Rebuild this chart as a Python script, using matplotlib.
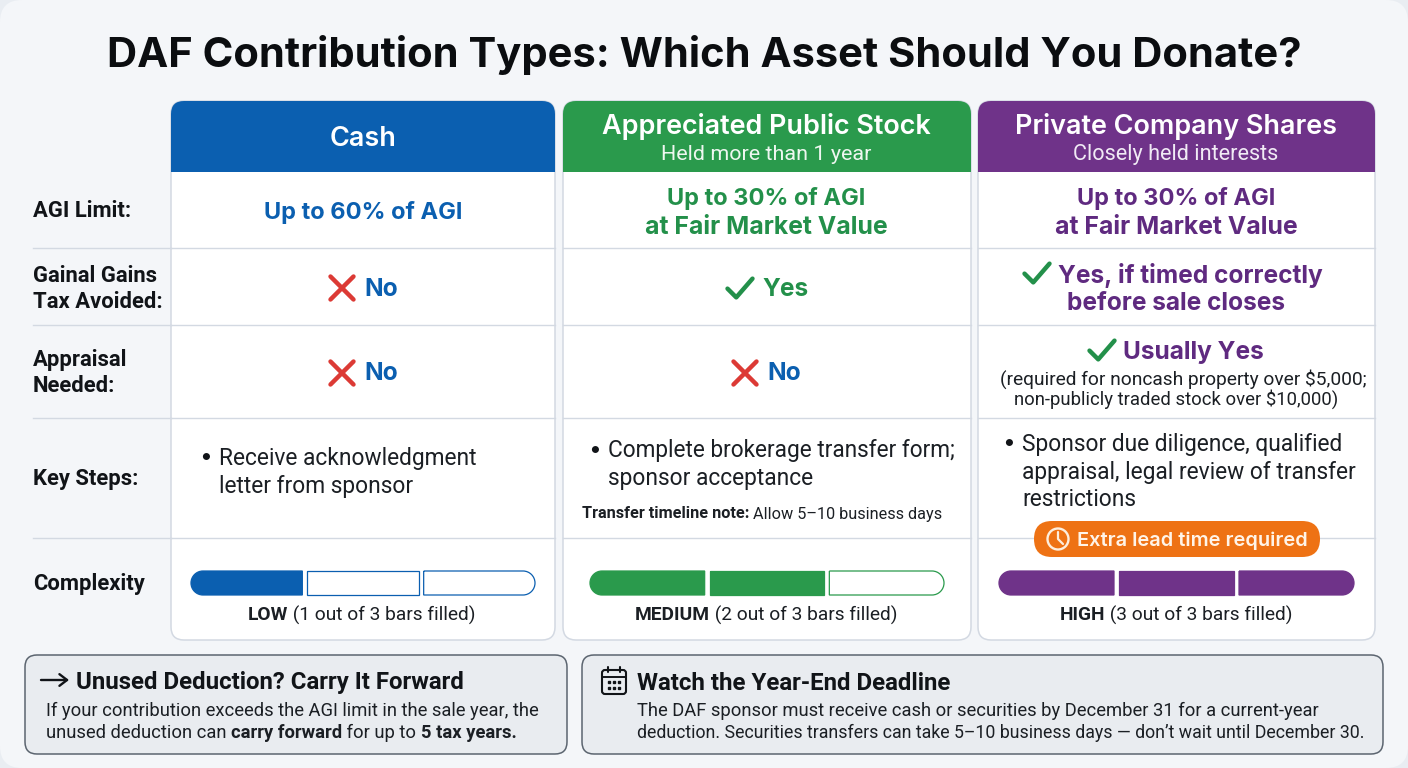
import matplotlib
matplotlib.use("Agg")
import matplotlib.pyplot as plt
import numpy as np
from matplotlib.patches import FancyBboxPatch, Rectangle, PathPatch, Circle
from matplotlib.path import Path

TITLE = "DAF Contribution Types: Which Asset Should You Donate?"
HEADERS = ["Cash", "Appreciated Public Stock", "Private Company Shares"]
SUBHEADERS = ["", "Held more than 1 year", "Closely held interests"]
COLORS = ["#0b5fb0", "#2a9a4c", "#6f3389"]
DARK_TEXT = ["#0b5fb0", "#23904a", "#5f2a80"]
ROW_LABELS = ["AGI Limit:", "Gainal Gains\nTax Avoided:", "Appraisal\nNeeded:", "Key Steps:", "Complexity"]
AGI_LINE1 = ["Up to 60% of AGI", "Up to 30% of AGI", "Up to 30% of AGI"]
AGI_LINE2 = ["", "at Fair Market Value", "at Fair Market Value"]
LEVELS = ["LOW", "MEDIUM", "HIGH"]
FILLED = [1, 2, 3]
TOTAL_BARS = 3

W, H = 1408, 768
FONT = "Inter"
BODY = "Roboto"
plt.rcParams["font.family"] = [FONT, "DejaVu Sans"]
fig = plt.figure(figsize=(W / 100, H / 100), dpi=100)
ax = fig.add_axes([0, 0, 1, 1])
ax.set_xlim(0, W); ax.set_ylim(H, 0); ax.axis("off")
fig.patch.set_facecolor("#e9edf2")
ax.add_patch(FancyBboxPatch((6, 6), W - 12, H - 12, boxstyle="round,pad=6,rounding_size=22",
                            fc="#f4f6f9", ec="none", zorder=0))

def px(p):
    return p * 0.72

def T(x, y, s, size, weight="normal", color="#111418", ha="center", va="center", z=5, lsp=None, font=None):
    kw = {}
    if lsp: kw["linespacing"] = lsp
    return ax.text(x, y, s, fontsize=px(size), fontweight=weight, color=color, ha=ha, va=va, zorder=z,
                   family=font or FONT, **kw)

def runs(x, y, parts, size, color="#1b1f24", center=False):
    r = fig.canvas.get_renderer()
    ws = []
    arts = []
    for s, b in parts:
        t = ax.text(0, y, s.replace(" ", "\u00a0"), fontsize=px(size), fontweight="bold" if b else "normal",
                    color=color, va="center", ha="left", zorder=5, family=BODY)
        ws.append(t.get_window_extent(r).width)
        arts.append(t)
    if center:
        x = x - sum(ws) / 2
    for t, w in zip(arts, ws):
        t.set_x(x); x += w

def rbox(x0, y0, x1, y1, r, fc, ec="none", lw=1, z=1):
    p = FancyBboxPatch((x0 + r, y0 + r), x1 - x0 - 2 * r, y1 - y0 - 2 * r,
                       boxstyle=f"round,pad={r},rounding_size={r}", fc=fc, ec=ec, lw=lw, zorder=z)
    ax.add_patch(p)
    return p

def xmark(cx, cy, s=11.5):
    for d in (1, -1):
        ax.plot([cx - s, cx + s], [cy - d * s, cy + d * s], color="#dc3a35", lw=3.2,
                solid_capstyle="round", zorder=5)

def check(cx, cy, s=12.5):
    ax.plot([cx - s, cx - s * 0.3, cx + s], [cy + s * 0.05, cy + s * 0.75, cy - s * 0.75],
            color="#23904a", lw=3.2, solid_capstyle="round", solid_joinstyle="round", zorder=5)

def seg(x0, x1, y0, y1, left, right, fc, ec):
    r = (y1 - y0) / 2
    k = 0.5523 * r
    C3 = Path.CURVE4
    v = [(x0 + (r if left else 0), y0), (x1 - (r if right else 0), y0)]
    c = [Path.MOVETO, Path.LINETO]
    if right:
        v += [(x1 - r + k, y0), (x1, y0 + r - k), (x1, y0 + r), (x1, y0 + r + k), (x1 - r + k, y1), (x1 - r, y1)]
        c += [C3] * 6
    else:
        v += [(x1, y1)]; c += [Path.LINETO]
    v += [(x0 + (r if left else 0), y1)]; c += [Path.LINETO]
    if left:
        v += [(x0 + r - k, y1), (x0, y1 - r + k), (x0, y0 + r), (x0, y0 + r - k), (x0 + r - k, y0), (x0 + r, y0)]
        c += [C3] * 6
    else:
        v += [(x0, y0)]; c += [Path.LINETO]
    ax.add_patch(PathPatch(Path(v, c), fc=fc, ec=ec, lw=0.9, zorder=4))

# Title
T(704, 55, TITLE, 41.7, "bold", "#0b0d10")

# Cards
CARDS = [(171, 555), (563, 971), (978, 1375)]
CARD_TOP, HEAD_BOT, CARD_BOT = 101, 172, 640
LINES = [248, 325, 418, 538]
for (x0, x1), col in zip(CARDS, COLORS):
    card = rbox(x0, CARD_TOP, x1, CARD_BOT, 13, "white", "#d3d9e2", 1.1, 1)
    head = Rectangle((x0, CARD_TOP), x1 - x0, HEAD_BOT - CARD_TOP, fc=col, ec="none", zorder=2)
    ax.add_patch(head)
    head.set_clip_path(card)
    for y in LINES:
        ax.plot([x0, x1], [y, y], color="#d3d9e2", lw=1.0, zorder=2)
for y in LINES:
    ax.plot([33, 171], [y, y], color="#d3d9e2", lw=1.0, zorder=1)

# Header text
T(363, 139, HEADERS[0], 27, "semibold", "white")
T(766, 127, HEADERS[1], 27, "semibold", "white")
T(766, 154.5, SUBHEADERS[1], 21.5, "normal", "#eef7f0", font=BODY)
T(1176, 127, HEADERS[2], 27, "semibold", "white")
T(1176, 154.5, SUBHEADERS[2], 21.7, "normal", "#f1ebf5", font=BODY)

# Row labels
for y, s in zip([211, 289, 373, 479, 584], ROW_LABELS):
    T(33, y, s, 22, "bold", "#111418", ha="left", lsp=1.27, font=BODY)

# AGI row
T(363, 212, AGI_LINE1[0], 23.6, "bold", DARK_TEXT[0])
for cx, a, b, c in zip([766, 1176], AGI_LINE1[1:], AGI_LINE2[1:], DARK_TEXT[1:]):
    T(cx, 198, a, 23.6, "bold", c)
    T(cx, 227, b, 24.8, "bold", c)

# Gains row
B = 24.5
xmark(342, 288); T(364, 289, "No", B, "bold", DARK_TEXT[0], ha="left")
check(740, 288); T(762, 289, "Yes", B, "bold", DARK_TEXT[1], ha="left")
check(1037, 273); T(1058, 275, "Yes, if timed correctly", B, "bold", DARK_TEXT[2], ha="left")
T(1176, 304, "before sale closes", B, "bold", DARK_TEXT[2])

# Appraisal row
xmark(342, 373); T(364, 374, "No", B, "bold", DARK_TEXT[0], ha="left")
xmark(745, 373); T(767, 374, "No", B, "bold", DARK_TEXT[0], ha="left")
check(1102, 350); T(1123, 352, "Usually Yes", B, "bold", DARK_TEXT[2], ha="left")
T(1183, 379, "(required for noncash property over $5,000;", 19.1, color="#1b1f24", font=BODY)
T(1176, 399, "non-publicly traded stock over $10,000)", 18.5, color="#1b1f24", font=BODY)

# Key steps
KS = 22.7
T(199, 457, "•", 23, ha="left"); T(219, 459, "Receive acknowledgment", KS, color="#1b1f24", ha="left", font=BODY)
T(219, 486, "letter from sponsor", KS, color="#1b1f24", ha="left", font=BODY)
T(588, 450, "•", 23, ha="left"); T(608, 451, "Complete brokerage transfer form;", KS * 0.995, color="#1b1f24", ha="left", font=BODY)
T(608, 478, "sponsor acceptance", KS, color="#1b1f24", ha="left", font=BODY)
runs(582, 514, [("Transfer timeline note:", True), (" Allow 5–10 business days", False)], 16.2)
T(1002, 443, "•", 23, ha="left"); T(1022, 445, "Sponsor due diligence, qualified", KS, color="#1b1f24", ha="left", font=BODY)
T(1022, 472, "appraisal, legal review of transfer", KS, color="#1b1f24", ha="left", font=BODY)
T(1022, 499, "restrictions", KS, color="#1b1f24", ha="left", font=BODY)

# Orange pill
rbox(1034, 521, 1320, 557, 18, "#ee7214", "none", z=6)
ax.add_patch(Circle((1058, 539), 10.5, fc="none", ec="#fdeedd", lw=1.7, zorder=7))
ax.plot([1058, 1058, 1063], [532, 539, 544], color="#fdeedd", lw=1.6, zorder=7, solid_capstyle="round")
T(1077, 541, "Extra lead time required", 20, "semibold", "#fff4e8", ha="left", z=7)

# Complexity bars
BARS = [(191, 535), (590, 944), (999, 1354)]
BAR_GAP = 5
for (x0, x1), col, n, lev, cx in zip(BARS, COLORS, FILLED, LEVELS, [362, 766, 1176]):
    w = (x1 - x0 - BAR_GAP * (TOTAL_BARS - 1)) / TOTAL_BARS
    for i in range(TOTAL_BARS):
        a = x0 + i * (w + BAR_GAP)
        seg(a, a + w, 571, 595, i == 0, i == TOTAL_BARS - 1, col if i < n else "white", col)
    runs(cx, 615, [(lev, True), (f" ({n} out of {TOTAL_BARS} bars filled)", False)], 19.2, center=True)

# Bottom boxes
rbox(25, 655, 567, 754, 12, "#e9ecf0", "#5c6570", 1.1)
rbox(582, 655, 1383, 754, 12, "#e9ecf0", "#5c6570", 1.1)

ax.annotate("", xy=(69, 680), xytext=(41, 680), zorder=5,
            arrowprops=dict(arrowstyle="->,head_length=0.55,head_width=0.42", lw=1.7, color="#111418",
                            shrinkA=0, shrinkB=0))
BT, BB = 24, 18.4
T(76, 683, "Unused Deduction? Carry It Forward", BT, "bold", ha="left", font=BODY)
T(46, 711, "If your contribution exceeds the AGI limit in the sale year, the", BB, color="#1b1f24", ha="left", font=BODY)
runs(46, 733, [("unused deduction can ", False), ("carry forward", True), (" for up to ", False), ("5 tax years.", True)], BB)

# Calendar icon
rbox(602, 670, 626, 694, 3, "none", "#111418", 1.5, z=5)
ax.plot([602, 626], [677, 677], color="#111418", lw=1.4, zorder=5)
for x in (608, 620):
    ax.plot([x, x], [667, 672], color="#111418", lw=1.5, zorder=5, solid_capstyle="round")
for yy in (682, 688):
    for x in (609, 614, 619):
        ax.plot([x], [yy], marker="s", ms=1.6, color="#111418", zorder=5)
T(637, 683, "Watch the Year-End Deadline", BT, "bold", ha="left", font=BODY)
T(637, 711, "The DAF sponsor must receive cash or securities by December 31 for a current-year", BB, color="#1b1f24", ha="left", font=BODY)
T(637, 733, "deduction. Securities transfers can take 5–10 business days — don’t wait until December 30.", 17.8, color="#1b1f24", ha="left", font=BODY)

fig.savefig("out.png", dpi=100, facecolor=fig.get_facecolor())
